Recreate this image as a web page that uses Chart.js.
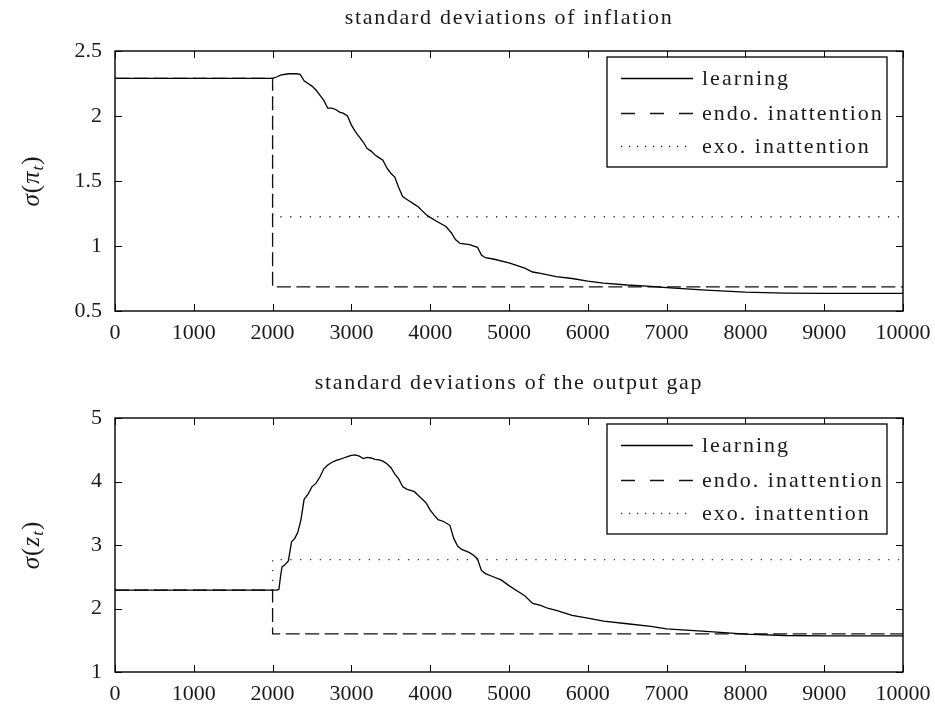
<!DOCTYPE html>
<html>
<head>
<meta charset="utf-8">
<script src="https://cdn.jsdelivr.net/npm/chart.js@4.4.0/dist/chart.umd.min.js"></script>
<style>
  body { margin: 0; background: #fff; }
  #wrap { position: relative; width: 935px; height: 706px; }
  canvas { position: absolute; left: 0; }
</style>
</head>
<body>
<div id="wrap">
  <canvas id="infl" width="935" height="352" style="top:0"></canvas>
  <canvas id="gap" width="935" height="366" style="top:340px"></canvas>
</div>
<script>
// tick labels
const xTicks = [0, 1000, 2000, 3000, 4000, 5000, 6000, 7000, 8000, 9000, 10000];
const inflTicks = [0.5, 1, 1.5, 2, 2.5];
const gapTicks = [1, 2, 3, 4, 5];
const seriesNames = ["learning", "endo. inattention", "exo. inattention"];

// inflation: learning
const inflLearnX = [0, 2000, 2050, 2100, 2200, 2300, 2350, 2400, 2450, 2500, 2550, 2600, 2650, 2700, 2750,
  2800, 2850, 2900, 2950, 3000, 3050, 3100, 3150, 3200, 3250, 3300, 3350, 3400, 3450, 3500, 3550, 3600,
  3650, 3700, 3750, 3800, 3850, 3900, 3950, 4000, 4080, 4200, 4270, 4320, 4380, 4500, 4600, 4650, 4700,
  4800, 5000, 5200, 5300, 5400, 5600, 5800, 6000, 6200, 6500, 6800, 7000, 7500, 8000, 8500, 9000, 10000];
const inflLearnY = [2.29, 2.29, 2.30, 2.315, 2.325, 2.325, 2.32, 2.27, 2.25, 2.23, 2.20, 2.16, 2.12, 2.06, 2.06,
  2.05, 2.03, 2.02, 2.00, 1.93, 1.88, 1.84, 1.80, 1.75, 1.73, 1.70, 1.68, 1.66, 1.60, 1.56, 1.53, 1.45,
  1.38, 1.36, 1.34, 1.32, 1.30, 1.27, 1.24, 1.22, 1.19, 1.15, 1.10, 1.05, 1.02, 1.01, 0.99, 0.93, 0.91,
  0.90, 0.87, 0.83, 0.80, 0.79, 0.765, 0.75, 0.73, 0.715, 0.70, 0.69, 0.68, 0.66, 0.645, 0.638, 0.636, 0.636];
// inflation: inattention cases
const inflEndoX = [0, 2000, 2000, 10000];
const inflEndoY = [2.29, 2.29, 0.685, 0.685];
const inflExoX = [0, 2000, 2000, 10000];
const inflExoY = [2.29, 2.29, 1.225, 1.225];

// output gap: learning
const gapLearnX = [0, 2000, 2050, 2080, 2100, 2120, 2150, 2200, 2240, 2280, 2320, 2360, 2400, 2450, 2500, 2550,
  2600, 2650, 2700, 2750, 2800, 2850, 2900, 2950, 3000, 3050, 3100, 3150, 3200, 3250, 3300, 3350, 3400,
  3450, 3500, 3550, 3600, 3650, 3700, 3750, 3800, 3850, 3900, 3950, 4000, 4050, 4100, 4170, 4250, 4300,
  4350, 4400, 4500, 4550, 4600, 4650, 4700, 4800, 4900, 5000, 5100, 5200, 5300, 5400, 5500, 5600, 5800,
  6000, 6200, 6500, 6800, 7000, 7500, 8000, 8500, 9000, 10000];
const gapLearnY = [2.29, 2.29, 2.29, 2.30, 2.50, 2.66, 2.68, 2.75, 3.05, 3.10, 3.20, 3.40, 3.72, 3.80, 3.92, 3.97,
  4.07, 4.20, 4.26, 4.30, 4.33, 4.35, 4.37, 4.39, 4.41, 4.42, 4.40, 4.36, 4.38, 4.37, 4.35, 4.34, 4.32,
  4.28, 4.22, 4.12, 4.04, 3.92, 3.88, 3.86, 3.84, 3.78, 3.72, 3.66, 3.55, 3.47, 3.40, 3.37, 3.31, 3.10,
  2.98, 2.93, 2.88, 2.84, 2.78, 2.60, 2.55, 2.50, 2.45, 2.36, 2.28, 2.20, 2.08, 2.05, 2.00, 1.97, 1.89,
  1.85, 1.80, 1.76, 1.72, 1.68, 1.64, 1.595, 1.575, 1.57, 1.57];
// output gap: inattention cases
const gapEndoX = [0, 2000, 2000, 10000];
const gapEndoY = [2.29, 2.29, 1.60, 1.60];
const gapExoX = [0, 2000, 2000, 10000];
const gapExoY = [2.29, 2.29, 2.77, 2.77];

const FONT = "'Liberation Serif', 'DejaVu Serif', serif";
const TXT = "#1a1a1a";

function pts(xs, ys) {
  return xs.map((x, i) => ({ x: x, y: ys[i] }));
}

function makeSets(lx, ly, ex, ey, ox, oy) {
  return [
    { label: seriesNames[0], data: pts(lx, ly), borderColor: "#000", borderWidth: 1.3 },
    { label: seriesNames[1], data: pts(ex, ey), borderColor: "#111", borderWidth: 1.3,
      borderDash: [14, 5.5], legendDash: [14, 15] },
    { label: seriesNames[2], data: pts(ox, oy), borderColor: "#333", borderWidth: 1.3,
      borderDash: [1.3, 8.5], legendDash: [1.3, 6.7] }
  ];
}

// title, box with inward ticks, legend inside the axes, y label with subscript
const boxPlugin = {
  id: "matlabBox",
  afterDraw(chart, args, opts) {
    const { ctx, chartArea: a, scales: { x, y } } = chart;
    ctx.save();
    ctx.strokeStyle = "#000";
    ctx.setLineDash([]);
    ctx.lineWidth = 1;
    ctx.beginPath();
    x.ticks.forEach(t => {
      const px = Math.round(x.getPixelForValue(t.value)) + 0.5;
      ctx.moveTo(px, a.bottom); ctx.lineTo(px, a.bottom - 7);
      ctx.moveTo(px, a.top); ctx.lineTo(px, a.top + 7);
    });
    y.ticks.forEach(t => {
      const py = Math.round(y.getPixelForValue(t.value)) + 0.5;
      ctx.moveTo(a.left, py); ctx.lineTo(a.left + 7, py);
      ctx.moveTo(a.right, py); ctx.lineTo(a.right - 7, py);
    });
    ctx.stroke();
    ctx.lineWidth = 1.4;
    ctx.strokeRect(a.left, a.top, a.right - a.left, a.bottom - a.top);

    // title
    ctx.fillStyle = TXT;
    ctx.font = "22px " + FONT;
    ctx.letterSpacing = "1.7px";
    ctx.textAlign = "center";
    ctx.textBaseline = "middle";
    ctx.fillText(opts.title, (a.left + a.right) / 2, opts.titleY);

    // legend
    const bw = 280, bh = 110;
    const bx = a.right - 16 - bw, by = a.top + 6;
    ctx.fillStyle = "#fff";
    ctx.fillRect(bx, by, bw, bh);
    ctx.lineWidth = 1.3;
    ctx.strokeRect(bx, by, bw, bh);
    const rows = [21, 55.5, 89];
    ctx.letterSpacing = "2px";
    ctx.textAlign = "left";
    chart.data.datasets.forEach((ds, i) => {
      const ly = Math.round(by + rows[i]) + 0.5;
      ctx.strokeStyle = ds.borderColor;
      ctx.lineWidth = ds.borderWidth;
      ctx.setLineDash(ds.legendDash || []);
      ctx.beginPath();
      ctx.moveTo(bx + 14, ly);
      ctx.lineTo(bx + 86, ly);
      ctx.stroke();
      ctx.setLineDash([]);
      ctx.fillStyle = TXT;
      ctx.fillText(ds.label, bx + 95, ly + 1);
    });

    // y axis label
    const parts = opts.label;
    const cy = (a.top + a.bottom) / 2;
    ctx.letterSpacing = "1px";
    ctx.translate(31, cy);
    ctx.rotate(-Math.PI / 2);
    let w = 0;
    parts.forEach(p => { ctx.font = p.f; w += ctx.measureText(p.t).width; });
    let cx = -w / 2;
    ctx.fillStyle = TXT;
    ctx.textBaseline = "alphabetic";
    parts.forEach(p => {
      ctx.font = p.f;
      ctx.fillText(p.t, cx, 8 + (p.dy || 0));
      cx += ctx.measureText(p.t).width;
    });
    ctx.restore();
  }
};

function makeChart(id, title, titleY, padTop, xAxisH, datasets, yMin, yMax, yTicks, label) {
  return new Chart(document.getElementById(id), {
    type: "line",
    data: { datasets: datasets },
    options: {
      responsive: false,
      animation: false,
      layout: { padding: { left: 0, right: 32, top: padTop, bottom: 0 } },
      elements: { point: { radius: 0 }, line: { tension: 0 } },
      plugins: {
        legend: { display: false },
        tooltip: { enabled: false },
        title: { display: false },
        matlabBox: { label: label, title: title, titleY: titleY }
      },
      scales: {
        x: {
          type: "linear", min: 0, max: 10000,
          grid: { display: false }, border: { display: false },
          afterBuildTicks: s => { s.ticks = xTicks.map(v => ({ value: v })); },
          afterFit: s => { s.height = xAxisH; },
          ticks: { color: TXT, font: { family: FONT, size: 22 }, padding: 1,
            maxRotation: 0, autoSkip: false, callback: v => String(v) }
        },
        y: {
          type: "linear", min: yMin, max: yMax,
          grid: { display: false }, border: { display: false },
          afterBuildTicks: s => { s.ticks = yTicks.map(v => ({ value: v })); },
          afterFit: s => { s.width = 115; },
          ticks: { color: TXT, font: { family: FONT, size: 22 }, padding: 5,
            callback: v => String(v) }
        }
      }
    },
    plugins: [boxPlugin]
  });
}

const it = "italic 25px " + FONT, up = "25px " + FONT, sub = "italic 17px " + FONT;

makeChart("infl", "standard deviations of inflation", 18, 51, 41,
  makeSets(inflLearnX, inflLearnY, inflEndoX, inflEndoY, inflExoX, inflExoY),
  0.5, 2.5, inflTicks,
  [{ t: "σ", f: it }, { t: "(", f: up }, { t: "π", f: it }, { t: "t", f: sub, dy: 4 }, { t: ")", f: up }]);

makeChart("gap", "standard deviations of the output gap", 43, 78, 34,
  makeSets(gapLearnX, gapLearnY, gapEndoX, gapEndoY, gapExoX, gapExoY),
  1, 5, gapTicks,
  [{ t: "σ", f: it }, { t: "(", f: up }, { t: "z", f: it }, { t: "t", f: sub, dy: 4 }, { t: ")", f: up }]);
</script>
</body>
</html>
